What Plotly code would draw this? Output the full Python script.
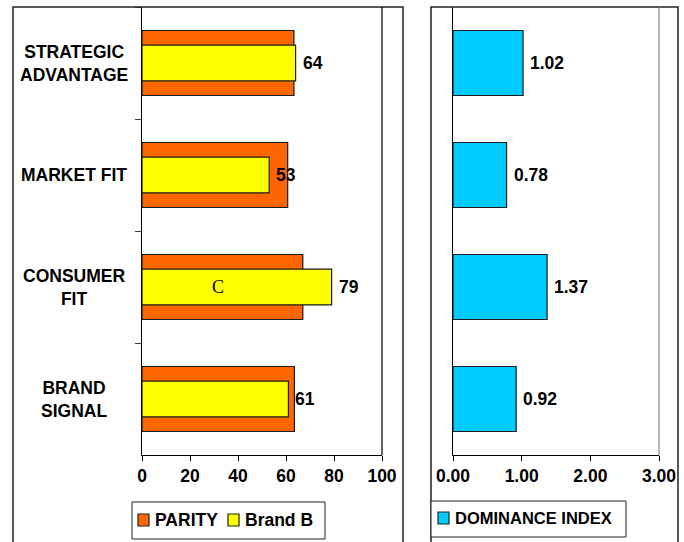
import plotly.graph_objects as go

W, H = 684, 542

categories = ["STRATEGIC ADVANTAGE", "MARKET FIT", "CONSUMER FIT", "BRAND SIGNAL"]
category_labels = ["STRATEGIC<br>ADVANTAGE", "MARKET FIT", "CONSUMER<br>FIT", "BRAND<br>SIGNAL"]
parity = [63.3, 60.7, 67.0, 63.5]
brand_b = [64, 53, 79, 61]
dominance = [1.02, 0.78, 1.37, 0.92]
left_ticks = [0, 20, 40, 60, 80, 100]
right_ticks = [0.0, 1.0, 2.0, 3.0]

FONT = "Liberation Sans, Arial, sans-serif"
FS = 17.5
PARITY_COLOR = "#FF6600"
BRAND_COLOR = "#FFFF00"
DOM_COLOR = "#00CCFF"
EDGE = "#1a1a1a"

def px(x):
    return x / W

def py(y):
    return 1 - y / H

fig = go.Figure()

fig.add_trace(go.Bar(
    name="PARITY", y=categories, x=parity, orientation="h", width=0.58,
    marker=dict(color=PARITY_COLOR, line=dict(color=EDGE, width=1.2)),
    xaxis="x", yaxis="y", hoverinfo="skip", showlegend=False,
))
fig.add_trace(go.Bar(
    name="Brand B", y=categories, x=brand_b, orientation="h", width=0.32,
    marker=dict(color=BRAND_COLOR, line=dict(color=EDGE, width=1.2)),
    xaxis="x", yaxis="y", hoverinfo="skip", showlegend=False,
))
fig.add_trace(go.Bar(
    name="DOMINANCE INDEX", y=categories, x=dominance, orientation="h", width=0.58,
    marker=dict(color=DOM_COLOR, line=dict(color=EDGE, width=1.2)),
    xaxis="x2", yaxis="y2", hoverinfo="skip", showlegend=False,
))

ydom = [py(455), py(7)]

axis_common = dict(
    showgrid=False, zeroline=False, showline=True, linecolor="black", linewidth=1.2,
    ticks="outside", ticklen=5, tickwidth=1, tickcolor="black", automargin=False,
    tickfont=dict(family=FONT, size=FS, color="black", weight="bold"),
)

fig.update_layout(
    width=W, height=H,
    margin=dict(l=0, r=0, t=0, b=0, pad=0, autoexpand=False),
    paper_bgcolor="white", plot_bgcolor="white",
    barmode="overlay",
    showlegend=False,
    font=dict(family=FONT, size=FS, color="black"),
    xaxis=dict(domain=[px(142), px(382)], range=[0, 100], tickvals=left_ticks,
               ticktext=[str(t) for t in left_ticks], anchor="y", **axis_common),
    yaxis=dict(domain=ydom, categoryorder="array", categoryarray=categories,
               autorange="reversed", showgrid=False, zeroline=False, showline=True,
               linecolor="black", linewidth=1.2, ticks="outside", ticklen=6,
               tickson="boundaries", showticklabels=False, anchor="x", automargin=False),
    xaxis2=dict(domain=[px(453), px(659)], range=[0, 3], tickvals=right_ticks,
                ticktext=[f"{t:.2f}" for t in right_ticks], anchor="y2", **axis_common),
    yaxis2=dict(domain=ydom, categoryorder="array", categoryarray=categories,
                autorange="reversed", showgrid=False, zeroline=False, showline=True,
                linecolor="black", linewidth=1.2, ticks="", showticklabels=False,
                anchor="x2", automargin=False),
)

shapes = []
# outer frames of the two charts
shapes.append(dict(type="rect", xref="paper", yref="paper", x0=px(13), x1=px(403),
                   y0=-0.05, y1=py(7), line=dict(color="#222", width=1.5)))
shapes.append(dict(type="rect", xref="paper", yref="paper", x0=px(431), x1=px(678),
                   y0=-0.05, y1=py(7), line=dict(color="#222", width=1.5)))
# right border of plot areas
shapes.append(dict(type="line", xref="x domain", yref="y domain", x0=1, x1=1, y0=0, y1=1,
                   line=dict(color="black", width=1.2)))
shapes.append(dict(type="line", xref="x2 domain", yref="y2 domain", x0=1, x1=1, y0=0, y1=1,
                   line=dict(color="#888", width=1.2)))

# legend boxes (drawn by hand to match the compact legend layout)
shapes.append(dict(type="rect", xref="paper", yref="paper", x0=px(132), x1=px(325),
                   y0=py(539), y1=py(502), line=dict(color="#222", width=1),
                   fillcolor="white"))
shapes.append(dict(type="rect", xref="paper", yref="paper", x0=px(431), x1=px(626),
                   y0=py(537), y1=py(501), line=dict(color="#222", width=1),
                   fillcolor="white"))
legend_items = [
    (PARITY_COLOR, "PARITY", 138, 520, FS),
    (BRAND_COLOR, "Brand B", 228, 520, FS),
    (DOM_COLOR, "DOMINANCE INDEX", 438, 518, 16.5),
]
annotations = []
for color, name, sx, cy, fsz in legend_items:
    shapes.append(dict(type="rect", xref="paper", yref="paper", x0=px(sx), x1=px(sx + 11),
                       y0=py(cy + 6), y1=py(cy - 6), line=dict(color="#222", width=1.2),
                       fillcolor=color))
    annotations.append(dict(xref="paper", yref="paper", x=px(sx + 15), y=py(cy), text=name,
                            showarrow=False, xanchor="left", yanchor="middle",
                            font=dict(family=FONT, size=fsz, color="black", weight="bold")))
fig.update_layout(shapes=shapes)

for cat, lab in zip(categories, category_labels):
    annotations.append(dict(xref="paper", yref="y", x=px(74), y=cat, text=lab,
                            showarrow=False, xanchor="center", yanchor="middle",
                            align="center",
                            font=dict(family=FONT, size=FS, color="black", weight="bold")))
for cat, v in zip(categories, brand_b):
    annotations.append(dict(xref="x", yref="y", x=v, y=cat, text=str(v), showarrow=False,
                            xanchor="left", yanchor="middle", xshift=5,
                            font=dict(family=FONT, size=FS, color="black", weight="bold")))
for cat, v in zip(categories, dominance):
    annotations.append(dict(xref="x2", yref="y2", x=v, y=cat, text=f"{v:.2f}", showarrow=False,
                            xanchor="left", yanchor="middle", xshift=5,
                            font=dict(family=FONT, size=FS, color="black", weight="bold")))
# stray serif letter inside the CONSUMER FIT bar
annotations.append(dict(xref="x", yref="y", x=31.7, y="CONSUMER FIT", text="C", showarrow=False,
                        xanchor="center", yanchor="middle",
                        font=dict(family="Liberation Serif, Times New Roman, serif", size=18,
                                  color="black")))
fig.update_layout(annotations=annotations)

fig.write_html("out.html")
